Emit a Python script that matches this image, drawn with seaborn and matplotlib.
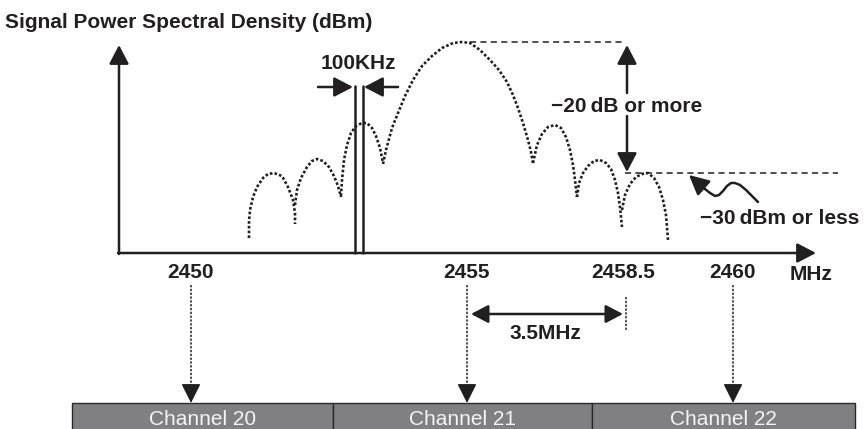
import matplotlib
matplotlib.use('Agg')
import matplotlib.pyplot as plt
from matplotlib.patches import Rectangle
import pandas as pd
import seaborn as sns

# spectrum lobes (pixel coords, y grows downward)
lobe_l3_x = [249, 249, 250, 253, 257, 263, 268, 274, 282, 288, 293, 295, 295]
lobe_l3_y = [238, 222, 210, 197, 187, 178, 174, 173, 176, 187, 200, 213, 224]
lobe_l2_x = [295, 297, 301, 307, 312, 317, 323, 329, 334, 338, 341]
lobe_l2_y = [205, 190, 178, 167, 161, 159, 161, 167, 176, 186, 197]
lobe_l1_x = [341, 342, 344, 347, 351, 356, 362, 367, 372, 376, 380, 383]
lobe_l1_y = [196, 180, 160, 145, 133, 126, 123, 123, 128, 136, 148, 163]
main_x = [383, 386, 392, 398, 405, 413, 422, 432, 442, 453, 462, 470, 480, 490,
          499, 507, 513, 518, 523, 528, 531, 533]
main_y = [164, 150, 128, 113, 96, 80, 66, 56, 48, 43, 42, 43, 50, 60,
          70, 82, 95, 108, 123, 140, 152, 163]
lobe_r1_x = [533, 537, 542, 548, 555, 561, 566, 570, 573, 575, 577]
lobe_r1_y = [163, 145, 134, 127, 125, 128, 137, 150, 165, 180, 197]
lobe_r2_x = [577, 579, 583, 588, 594, 600, 606, 611, 615, 618, 620, 622]
lobe_r2_y = [197, 183, 173, 166, 161, 160, 163, 169, 180, 193, 207, 227]
lobe_r3_x = [622, 625, 630, 636, 642, 648, 654, 659, 663, 666, 668]
lobe_r3_y = [210, 195, 184, 177, 174, 173, 178, 187, 200, 215, 240]

freq_labels = ['2450', '2455', '2458.5', '2460']
freq_pos = [191, 466, 623, 733]
channel_names = ['Channel 20', 'Channel 21', 'Channel 22']
channel_edges = [72, 333, 592, 855]
channel_marks = [191, 467, 733]

squig_x = [758, 752, 746, 740, 735, 731, 727, 723, 719, 715, 710, 705]
squig_y = [202, 196, 190, 185, 183, 183, 186, 191, 195, 196, 193, 189]

INK = '#231f20'

sns.set_theme(style='white')
plt.rcParams['font.family'] = ['Liberation Sans', 'DejaVu Sans']

lobes = [lobe_l3_x, lobe_l2_x, lobe_l1_x, main_x, lobe_r1_x, lobe_r2_x, lobe_r3_x]
lobes_y = [lobe_l3_y, lobe_l2_y, lobe_l1_y, main_y, lobe_r1_y, lobe_r2_y, lobe_r3_y]
spec = pd.concat([pd.DataFrame({'x': xs, 'y': ys, 'lobe': i})
                  for i, (xs, ys) in enumerate(zip(lobes, lobes_y))], ignore_index=True)

fig = plt.figure(figsize=(8.67, 4.29), dpi=100)
ax = fig.add_axes([0, 0, 1, 1])

sns.lineplot(data=spec, x='x', y='y', units='lobe', estimator=None, sort=False,
             color=INK, lw=1.9, linestyle=(0, (1, 0.8)), legend=False, ax=ax)


def arrow(x0, y0, x1, y1, style='-|>', lw=1.8, hl=1.15, hw=0.6):
    ax.annotate('', xy=(x1, y1), xytext=(x0, y0),
                arrowprops=dict(arrowstyle=f'{style},head_length={hl},head_width={hw}',
                                mutation_scale=10, lw=lw, color=INK,
                                shrinkA=0, shrinkB=0))


# axes
arrow(119, 254, 119, 45)
arrow(118, 253, 816, 253)

# 100 kHz channel lines
for xv in [354.5, 362.5]:
    ax.plot([xv, xv], [86, 253], color=INK, lw=1.8)
arrow(318, 87, 353, 87)
arrow(398, 87, 364, 87)
ax.text(358, 69, '100KHz', ha='center', va='baseline', fontsize=15, fontweight='bold', color=INK)

# reference levels
dash = (0, (4, 2.8))
ax.plot([470, 625], [42, 42], color=INK, lw=1.1, linestyle=dash)
ax.plot([625, 838], [173, 173], color=INK, lw=1.1, linestyle=dash)
arrow(627, 93, 627, 45)
arrow(627, 116, 627, 172)
ax.text(627, 112, '\u221220\u2009dB or more', ha='center', va='baseline',
        fontsize=15, fontweight='bold', color=INK)

ax.plot(squig_x, squig_y, color=INK, lw=1.8)
arrow(squig_x[-1], squig_y[-1], 689, 175, hl=1.2, hw=0.6)
ax.text(780, 224, '\u221230\u2009dBm or less', ha='center', va='baseline',
        fontsize=15, fontweight='bold', color=INK)

# frequency labels
for lab, xp in zip(freq_labels, freq_pos):
    ax.text(xp, 278, lab, ha='center', va='baseline', fontsize=15, fontweight='bold', color=INK)
ax.text(811, 280, 'MHz', ha='center', va='baseline', fontsize=15, fontweight='bold', color=INK)

# 3.5 MHz offset
ax.plot([626, 626], [297, 331], color=INK, lw=1.1, linestyle=(0, (1.5, 1)))
arrow(471, 314, 623, 314, style='<|-|>', hl=1.05, hw=0.55)
ax.text(545, 339, '3.5MHz', ha='center', va='baseline', fontsize=15, fontweight='bold', color=INK)

# dotted arrows down to the channel bar
for xm in channel_marks:
    ax.plot([xm, xm], [285, 390], color=INK, lw=1.1, linestyle=(0, (1.5, 1)))
    arrow(xm, 386, xm, 403, lw=1.0, hl=1.2, hw=0.6)

# channel bar
for name, x0, x1 in zip(channel_names, channel_edges[:-1], channel_edges[1:]):
    ax.add_patch(Rectangle((x0, 403), x1 - x0, 40, facecolor='#808083',
                           edgecolor='#2a2a2a', lw=1.0))
    ax.text((x0 + x1) / 2, 425, name, ha='center', va='baseline', fontsize=15, color='#f4f4f4')

ax.text(5, 28, 'Signal Power Spectral Density (dBm)', ha='left', va='baseline',
        fontsize=15, fontweight='bold', color=INK)

ax.set_xlim(0, 867)
ax.set_ylim(429, 0)
ax.axis('off')

fig.savefig('out.png', dpi=100)
